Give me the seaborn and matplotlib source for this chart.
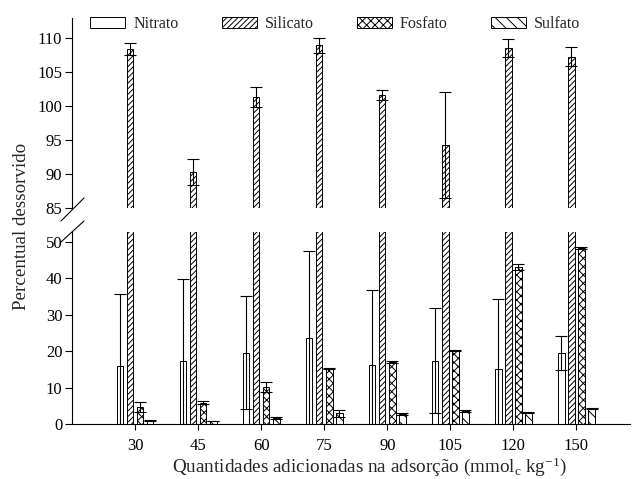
import numpy as np
import pandas as pd
import matplotlib
matplotlib.use("Agg")
import matplotlib.pyplot as plt
import seaborn as sns

# ---- data ----
categories = ["30", "45", "60", "75", "90", "105", "120", "150"]
anions = ["Nitrato", "Silicato", "Fosfato", "Sulfato"]
nitrato = [15.8, 17.4, 19.5, 23.6, 16.3, 17.4, 15.1, 19.5]
nitrato_err = [19.8, 22.4, 15.5, 23.9, 20.6, 14.5, 19.3, 4.6]
silicato = [108.4, 90.3, 101.3, 108.9, 101.6, 94.2, 108.5, 107.2]
silicato_err = [0.9, 1.9, 1.5, 1.1, 0.75, 7.8, 1.3, 1.4]
fosfato = [4.6, 5.9, 10.1, 15.3, 17.0, 20.1, 43.2, 48.4]
fosfato_err = [1.4, 0.5, 1.3, 0.2, 0.2, 0.2, 0.8, 0.3]
sulfato = [0.9, 0.8, 1.6, 2.9, 2.75, 3.6, 3.1, 4.3]
sulfato_err = [0.1, 0.1, 0.2, 1.0, 0.2, 0.2, 0.2, 0.2]

values = {"Nitrato": nitrato, "Silicato": silicato, "Fosfato": fosfato, "Sulfato": sulfato}
errors = {"Nitrato": nitrato_err, "Silicato": silicato_err, "Fosfato": fosfato_err, "Sulfato": sulfato_err}
hatches = {"Nitrato": "", "Silicato": "//////", "Fosfato": "xxxx", "Sulfato": "\\\\\\"}

df = pd.DataFrame([
    {"Quantidade": c, "Anion": a, "Valor": values[a][i], "Erro": errors[a][i]}
    for a in anions for i, c in enumerate(categories)
])

sns.set_style("ticks")
plt.rcParams["font.family"] = ["Liberation Serif", "DejaVu Serif"]
plt.rcParams["mathtext.fontset"] = "custom"
plt.rcParams["mathtext.rm"] = "Liberation Serif"
plt.rcParams["mathtext.it"] = "Liberation Serif:italic"
plt.rcParams["hatch.linewidth"] = 0.7
plt.rcParams["hatch.color"] = "black"

fig = plt.figure(figsize=(6.33, 4.79), dpi=100)
L, R = 72 / 633, 630 / 633
ax_top = fig.add_axes([L, 1 - 208 / 479, R - L, (208 - 18) / 479])
ax_bot = fig.add_axes([L, 1 - 424 / 479, R - L, (424 - 232) / 479])

for ax in (ax_top, ax_bot):
    sns.barplot(data=df, x="Quantidade", y="Valor", hue="Anion", order=categories,
                hue_order=anions, palette=["white"] * 4, edgecolor="black",
                linewidth=0.7, width=0.64, gap=0.35, errorbar=None, legend=False, ax=ax)
    for cont, a in zip(ax.containers, anions):
        xs, hs = [], []
        for p in cont.patches:
            p.set_hatch(hatches[a])
            p.set_edgecolor("black")
            xs.append(p.get_x() + p.get_width() / 2)
            hs.append(p.get_height())
        ax.errorbar(xs, hs, yerr=errors[a], fmt="none", ecolor="black",
                    elinewidth=0.8, capsize=4, capthick=0.8, zorder=3)
    ax.set_xlim(-1.0, 7.85)
    ax.set_xlabel("")
    ax.set_ylabel("")
    ax.tick_params(axis="both", direction="out", labelsize=12, width=0.8,
                   colors="black")
    ax.tick_params(axis="y", length=5, pad=2)
    ax.tick_params(axis="x", length=4.3, pad=6)
    for s in ax.spines.values():
        s.set_linewidth(0.8)
        s.set_color("black")

ax_top.set_ylim(85, 112.9)
ax_top.set_yticks([85, 90, 95, 100, 105, 110])
ax_top.spines["top"].set_visible(False)
ax_top.spines["right"].set_visible(False)
ax_top.spines["bottom"].set_visible(False)
ax_top.tick_params(axis="x", bottom=False, labelbottom=False)

ax_bot.set_ylim(0, 52.7)
ax_bot.set_yticks([0, 10, 20, 30, 40, 50])
ax_bot.spines["top"].set_visible(False)
ax_bot.spines["right"].set_visible(False)

# break marks
for y0, y1 in [(221, 198), (242, 221)]:
    fig.add_artist(plt.Line2D([61 / 633, 84 / 633], [1 - y0 / 479, 1 - y1 / 479],
                              color="black", lw=0.8))

leg = ax_top.legend(handles=list(ax_top.containers), labels=anions, loc="center left",
                    bbox_to_anchor=(90 / 633, 1 - 24 / 479), bbox_transform=fig.transFigure,
                    ncol=4, frameon=False, fontsize=11.5, borderpad=0, borderaxespad=0,
                    handlelength=2.2, handleheight=0.7, columnspacing=2.7,
                    handletextpad=0.5)

fig.text(369 / 633, 1 - 467 / 479,
         r"Quantidades adicionadas na adsorção (mmol$_{\mathrm{c}}$ kg$^{-1}$)",
         ha="center", va="center", fontsize=13.8)
fig.text(22 / 633, 1 - 226 / 479, "Percentual dessorvido", rotation=90,
         ha="center", va="center", fontsize=13.7)

fig.savefig("out.png", dpi=100)
